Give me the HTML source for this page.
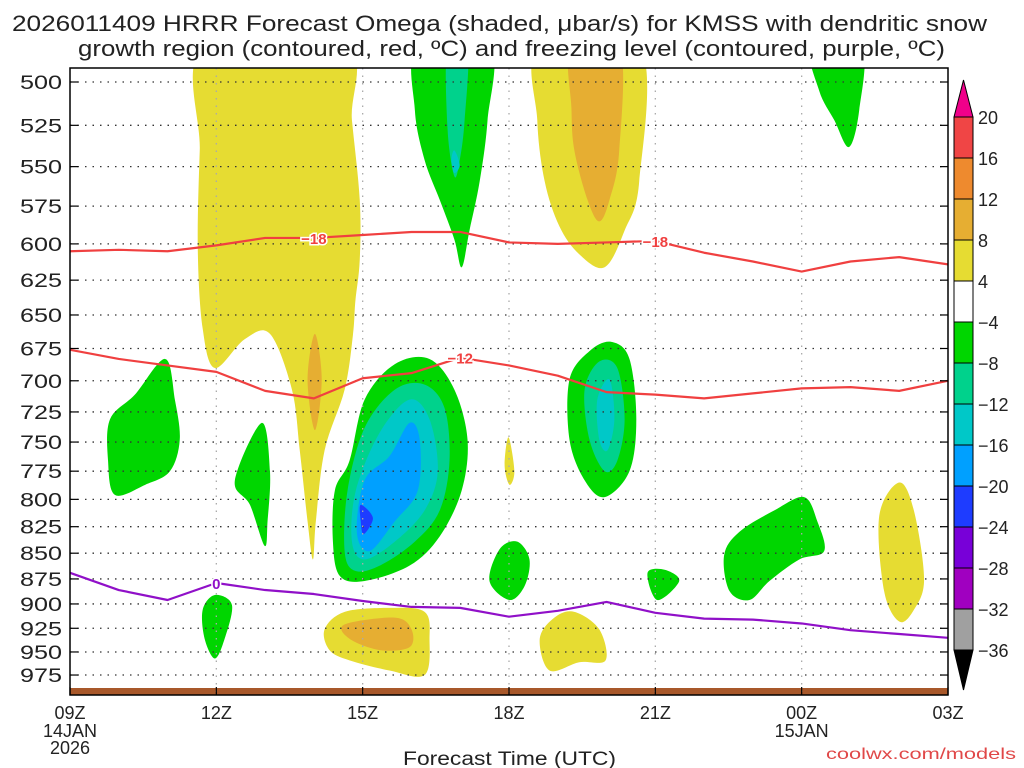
<!DOCTYPE html>
<html><head><meta charset="utf-8">
<style>
html,body{margin:0;padding:0;background:#fff;}
svg{display:block;font-family:"Liberation Sans","DejaVu Sans",sans-serif;}
</style></head>
<body>
<svg id="chart" width="1024" height="768" viewBox="0 0 1024 768" xmlns="http://www.w3.org/2000/svg">
<text x="12" y="31" font-size="22" textLength="975" lengthAdjust="spacingAndGlyphs" fill="#222">2026011409 HRRR Forecast Omega (shaded, μbar/s) for KMSS with dendritic snow</text>
<text x="78" y="56" font-size="22" textLength="867" lengthAdjust="spacingAndGlyphs" fill="#222">growth region (contoured, red, ºC) and freezing level (contoured, purple, ºC)</text>
<defs><clipPath id="plotclip"><rect x="70" y="68" width="878" height="627"/></clipPath></defs>
<g id="shades" clip-path="url(#plotclip)"></g>
<g id="grid"></g>
<g id="lines" clip-path="url(#plotclip)"></g>
<g id="axes"></g>
<g id="cbar"></g>
<text x="403" y="765" font-size="19" textLength="213" lengthAdjust="spacingAndGlyphs" fill="#222">Forecast Time (UTC)</text>
<text x="826" y="759" font-size="16" textLength="190" lengthAdjust="spacingAndGlyphs" fill="#e04848">coolwx.com/models</text>
</svg>
<script>
// ---- data ----
const hours = [0,1,2,3,4,5,6,7,8,9,10,11,12,13,14,15,16,17,18];
const dgzMinus18 = [605,604,605,601,596,596,594,592,592,599,600,599,598,606,612,619,612,609,614];
const dgzMinus12 = [676,683,688,693,708,714,698,694,682,688,696,709,711,714,710,706,705,708,700];
const freezing0 = [869,886,896,879,886,890,897,903,904,913,907,898,909,915,916,920,927,931,935];
const pTicks = [500,525,550,575,600,625,650,675,700,725,750,775,800,825,850,875,900,925,950,975];
const xTickHours = [0,3,6,9,12,15,18];
const xTickLabels = ["09Z","12Z","15Z","18Z","21Z","00Z","03Z"];
const cbLevels = [20,16,12,8,4,-4,-8,-12,-16,-20,-24,-28,-32,-36];
const cbColors = ["#f04545","#ee8a2e","#e6ae32","#e6dc32","#ffffff","#00d600","#00d28c","#00c8c8","#00a0ff","#1e3cff","#7800d8","#a000c0","#a0a0a0"];
const regions = [
 ["#e6dc32",[[2.76,480],[5.63,480],[5.78,522],[5.94,571],[5.94,611],[5.85,640],[5.80,665],[5.63,707],[5.22,757],[5.04,820],[4.98,856],[4.87,820],[4.71,757],[4.55,707],[4.10,664],[3.58,668],[2.97,690],[2.72,660],[2.62,604],[2.66,540]]],
 ["#e6ae32",[[5.02,664],[5.16,699],[5.02,740],[4.87,699]]],
 ["#00d600",[[7.13,480],[8.60,480],[8.56,522],[8.40,559],[8.19,591],[8.03,616],[7.88,597],[7.58,571],[7.27,546],[7.07,516]]],
 ["#00d28c",[[7.74,480],[8.15,480],[8.09,522],[7.99,546],[7.88,556],[7.74,527]]],
 ["#00c8c8",[[7.88,540],[7.99,549],[7.88,554],[7.82,546]]],
 ["#e6dc32",[[9.63,480],[11.67,480],[11.67,559],[11.37,591],[10.96,616],[10.44,607],[10.03,588],[9.73,559],[9.58,522]]],
 ["#e6ae32",[[10.28,480],[11.26,480],[11.26,540],[11.06,571],[10.85,585],[10.61,571],[10.34,540],[10.28,515]]],
 ["#00d600",[[15.20,480],[16.22,480],[16.18,516],[15.97,538],[15.67,522],[15.36,505]]],
 ["#00d600",[[5.73,766],[6.04,715],[6.66,687],[7.37,683],[7.88,707],[8.15,748],[8.03,792],[7.58,834],[6.96,862],[6.04,877],[5.53,872],[5.39,839],[5.43,792]]],
 ["#00d28c",[[5.63,848],[5.69,792],[6.04,738],[6.66,707],[7.27,703],[7.68,722],[7.78,766],[7.58,810],[7.07,839],[6.35,862],[5.84,867]]],
 ["#00c8c8",[[5.78,839],[5.86,792],[6.35,742],[6.96,715],[7.37,731],[7.54,775],[7.27,810],[6.66,839],[6.04,856]]],
 ["#00a0ff",[[5.88,830],[6.04,783],[6.55,762],[6.96,734],[7.17,748],[7.13,792],[6.66,820],[6.14,848]]],
 ["#1e3cff",[[5.96,805],[6.21,817],[6.02,832],[5.96,820]]],
 ["#00d600",[[10.24,699],[10.65,677],[11.10,670],[11.47,683],[11.61,731],[11.47,775],[10.96,798],[10.55,783],[10.24,748]]],
 ["#00d28c",[[10.55,707],[10.85,685],[11.22,690],[11.37,731],[11.22,766],[10.96,775],[10.65,748]]],
 ["#00c8c8",[[10.81,715],[11.06,699],[11.16,731],[11.02,757],[10.85,748]]],
 ["#00d600",[[0.82,731],[1.33,711],[1.95,683],[2.15,715],[2.25,748],[2.05,775],[1.54,787],[0.92,796],[0.78,766]]],
 ["#00d600",[[3.38,783],[3.93,734],[4.10,775],[4.05,820],[3.99,843],[3.69,805]]],
 ["#e6dc32",[[8.99,746],[9.11,775],[9.01,787],[8.91,770]]],
 ["#00d600",[[8.60,877],[8.81,846],[9.17,839],[9.42,856],[9.32,882],[9.01,896]]],
 ["#00d600",[[11.84,869],[12.19,866],[12.49,877],[12.04,896]]],
 ["#00d600",[[2.72,906],[2.97,891],[3.32,901],[3.17,936],[2.97,957],[2.76,936]]],
 ["#00d600",[[13.41,852],[13.72,830],[14.44,810],[15.05,798],[15.32,820],[15.46,848],[14.95,856],[14.34,877],[13.93,896],[13.52,887]]],
 ["#e6dc32",[[16.59,815],[17.00,785],[17.30,810],[17.51,875],[17.30,906],[17.00,918],[16.69,887]]],
 ["#e6dc32",[[5.22,926],[5.63,908],[6.55,904],[7.27,908],[7.37,936],[7.27,975],[6.55,970],[5.73,959],[5.32,948]]],
 ["#e6ae32",[[5.63,921],[6.66,914],[7.00,926],[6.96,945],[6.35,948],[5.73,936]]],
 ["#e6dc32",[[9.63,936],[9.93,914],[10.34,908],[10.85,926],[10.98,959],[10.44,961],[9.83,970]]]
];
// ---- scales ----
const X0=70, X1=948, Y0=68, Y1=695;
function xs(h){return X0 + h*(X1-X0)/18;}
function ys(p){return 82 + 888*Math.log(p/500);}
const NS="http://www.w3.org/2000/svg";
function mk(tag,attrs,parent){const e=document.createElementNS(NS,tag);for(const k in attrs)e.setAttribute(k,attrs[k]);parent.appendChild(e);return e;}
function smoothClosed(pts){
  const n=pts.length;let d=`M${pts[0][0]},${pts[0][1]}`;
  for(let i=0;i<n;i++){
    const p0=pts[(i-1+n)%n],p1=pts[i],p2=pts[(i+1)%n],p3=pts[(i+2)%n];
    const c1=[p1[0]+(p2[0]-p0[0])/6,p1[1]+(p2[1]-p0[1])/6];
    const c2=[p2[0]-(p3[0]-p1[0])/6,p2[1]-(p3[1]-p1[1])/6];
    d+=`C${c1[0]},${c1[1]} ${c2[0]},${c2[1]} ${p2[0]},${p2[1]}`;
  }
  return d+"Z";
}
const gS=document.getElementById('shades');
regions.forEach((r,i)=>{
  const pts=r[1].map(q=>[xs(q[0]),ys(q[1])]);
  const el=mk('path',{d:smoothClosed(pts),fill:r[0]},gS);
  
  
});
const terr=mk('rect',{x:X0,y:688,width:X1-X0,height:7,fill:"#a8582a"},gS);


const gG=document.getElementById('grid');
pTicks.forEach(p=>{
  const l=mk('line',{x1:X0,x2:X1,y1:ys(p),y2:ys(p),stroke:"#333","stroke-width":1.3,"stroke-dasharray":"1.5 6"},gG);
  
  
});
xTickHours.slice(1,-1).forEach(h=>{
  const l=mk('line',{x1:xs(h),x2:xs(h),y1:Y0,y2:Y1,stroke:"#aaa","stroke-width":1.3,"stroke-dasharray":"1.5 6"},gG);
  
  
});
const gL=document.getElementById('lines');
function drawLine(vals,color,name){
  const pts=vals.map((p,i)=>`${xs(hours[i])},${ys(p)}`).join(' ');
  const el=mk('polyline',{points:pts,fill:"none",stroke:color,"stroke-width":2.2,"stroke-linejoin":"round"},gL);
  
  
}
drawLine(dgzMinus18,"#f04040","contour-minus-18");
drawLine(dgzMinus12,"#f04040","contour-minus-12");
drawLine(freezing0,"#9010c8","freezing-level-0");
function label(h,vals,txt,color,name){
  const x=xs(h),y=ys(vals[Math.round(h)]);
  const t=mk('text',{x:x,y:y+6,"font-size":15,"font-weight":"bold","text-anchor":"middle",fill:color,stroke:"#fff","stroke-width":3,"paint-order":"stroke"},gL);
  t.textContent=txt;
  
  
}
label(5,dgzMinus18,"−18","#f04040","label-minus-18-a");
label(12,dgzMinus18,"−18","#f04040","label-minus-18-b");
label(8,dgzMinus12,"−12","#f04040","label-minus-12");
label(3,freezing0,"0","#9010c8","label-zero");
const gA=document.getElementById('axes');
const fr=mk('rect',{x:X0,y:Y0,width:X1-X0,height:Y1-Y0,fill:"none",stroke:"#000","stroke-width":1.5},gA);


pTicks.forEach(p=>{
  mk('line',{x1:X0,x2:X0+8,y1:ys(p),y2:ys(p),stroke:"#000","stroke-width":1.2},gA);
  mk('line',{x1:X1-8,x2:X1,y1:ys(p),y2:ys(p),stroke:"#000","stroke-width":1.2},gA);
  const t=mk('text',{x:20,y:ys(p)+7,"font-size":19,textLength:42,lengthAdjust:"spacingAndGlyphs",fill:"#222"},gA);
  t.textContent=p;
  
  
});
xTickHours.forEach((h,i)=>{
  mk('line',{x1:xs(h),x2:xs(h),y1:Y1,y2:Y1-8,stroke:"#000","stroke-width":1.2},gA);
  const t=mk('text',{x:xs(h),y:719,"font-size":18,"text-anchor":"middle",fill:"#222"},gA);
  t.textContent=xTickLabels[i];
  
  
});
[["14JAN",xs(0),737],["2026",xs(0),754],["15JAN",xs(15),737]].forEach(a=>{
  const t=mk('text',{x:a[1],y:a[2],"font-size":18,"text-anchor":"middle",fill:"#222"},gA);
  t.textContent=a[0];
  
  
});
const gC=document.getElementById('cbar');
const CB0=117, CBstep=41, CBx=954, CBw=19;
const cbTop=mk('polygon',{points:`${CBx},${CB0} ${CBx+CBw},${CB0} ${CBx+CBw/2},${CB0-37}`,fill:"#f0008a",stroke:"#000","stroke-width":1},gC);


cbColors.forEach((c,i)=>{
  const r=mk('rect',{x:CBx,y:CB0+i*CBstep,width:CBw,height:CBstep,fill:c,stroke:"#000","stroke-width":1},gC);
  
  
});
const yb=CB0+cbColors.length*CBstep;
const cbBot=mk('polygon',{points:`${CBx},${yb} ${CBx+CBw},${yb} ${CBx+CBw/2},${yb+40}`,fill:"#000",stroke:"#000","stroke-width":1},gC);


cbLevels.forEach((v,i)=>{
  const t=mk('text',{x:CBx+24,y:CB0+i*CBstep+7,"font-size":18,fill:"#222"},gC);
  t.textContent=(v<0?"−":"")+Math.abs(v);
  
  
});
</script>
</body></html>
